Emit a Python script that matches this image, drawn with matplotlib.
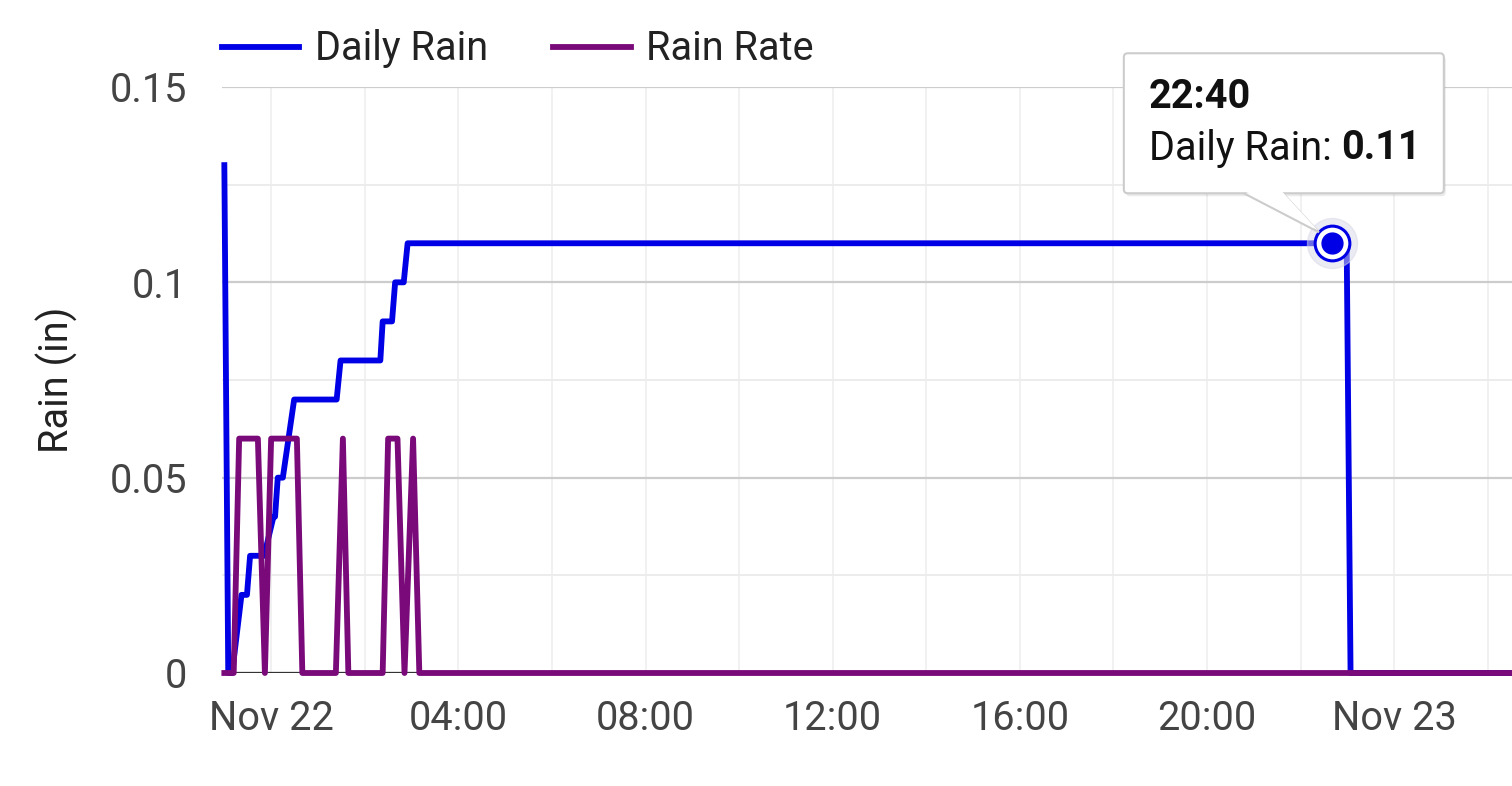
import matplotlib
matplotlib.use('Agg')
import matplotlib.pyplot as plt
import matplotlib.dates as mdates
import matplotlib.transforms as mtransforms
from matplotlib.patches import FancyBboxPatch, Polygon
from matplotlib.lines import Line2D
import pandas as pd

plt.rcParams['font.family'] = ['Roboto', 'DejaVu Sans']

# daily rain, minutes from Nov 22 00:00
rain_min = [-60, -55, -50, -38, -31, -27, -9, 3, 5, 8.5, 15, 29.5, 84, 89,
            140, 143, 155, 159, 170, 175, 1360, 1379, 1384, 1600]
rain_val = [0.13, 0, 0, 0.02, 0.02, 0.03, 0.03, 0.04, 0.04, 0.05, 0.05, 0.07,
            0.07, 0.08, 0.08, 0.09, 0.09, 0.10, 0.10, 0.11, 0.11, 0.11, 0, 0]

# rain rate
rate_min = [-60, -48, -41, -17, -8, 0, 33, 40, 83, 92, 99, 143, 150, 162,
            171, 182, 190, 1600]
rate_val = [0, 0, 0.06, 0.06, 0, 0.06, 0.06, 0, 0, 0.06, 0, 0, 0.06, 0.06,
            0, 0.06, 0, 0]

y_ticks = [0, 0.05, 0.1, 0.15]
y_labels = ['0', '0.05', '0.1', '0.15']

tip_min = 1360  # 22:40
tip_val = 0.11

base = pd.Timestamp('2023-11-22')
rain_t = base + pd.to_timedelta(rain_min, unit='min')
rate_t = base + pd.to_timedelta(rate_min, unit='min')
tip_t = base + pd.Timedelta(minutes=tip_min)

BLUE = '#0000e6'
PURPLE = '#7a0a7a'
FS = 28.5

fig = plt.figure(figsize=(15.12, 7.86), dpi=100)
ax = fig.add_axes([222 / 1512, 1 - 673 / 786, 1 - 222 / 1512, (673 - 87) / 786])

ax.set_xlim(base - pd.Timedelta(minutes=63), base + pd.Timedelta(minutes=1591))
ax.set_ylim(0, 0.15)

ax.set_yticks(y_ticks)
ax.set_yticklabels(y_labels)
ax.set_yticks([0.025, 0.075, 0.125], minor=True)

ax.xaxis.set_major_locator(mdates.HourLocator(byhour=[0, 4, 8, 12, 16, 20]))
ax.xaxis.set_minor_locator(mdates.HourLocator(byhour=list(range(0, 24, 2))))
ax.xaxis.remove_overlapping_locs = False


def fmt_time(x, pos=None):
    d = mdates.num2date(x)
    if d.hour == 0 and d.minute == 0:
        return d.strftime('%b %d').replace(' 0', ' ')
    return d.strftime('%H:%M')


ax.xaxis.set_major_formatter(plt.FuncFormatter(fmt_time))

for s in ax.spines.values():
    s.set_visible(False)
ax.tick_params(axis='both', which='both', length=0)
ax.tick_params(axis='x', labelsize=FS, labelcolor='#444444', pad=19)
ax.tick_params(axis='y', labelsize=FS, labelcolor='#444444', pad=25)

ax.grid(axis='y', which='major', color='#cccccc', lw=1.6)
ax.grid(axis='y', which='minor', color='#ececec', lw=1.4)
ax.grid(axis='x', which='both', color='#f1f1f1', lw=1.4)
ax.set_axisbelow(True)
ax.axhline(0, color='#333333', lw=1.6, zorder=1.5)

ax.plot(rain_t, rain_val, color=BLUE, lw=4.2, zorder=3, clip_on=False)
ax.plot(rate_t, rate_val, color=PURPLE, lw=4.2, zorder=3, clip_on=False)

# highlighted point
ax.plot([tip_t], [tip_val], 'o', ms=36, color='#d8d8e8', alpha=0.5, zorder=4)
ax.plot([tip_t], [tip_val], 'o', ms=25, mfc='white', mec=BLUE, mew=2.2, zorder=5)
ax.plot([tip_t], [tip_val], 'o', ms=15, color=BLUE, zorder=6)

fig.text(57 / 1512, 1 - 380 / 786, 'Rain (in)', rotation=90, ha='center',
         va='center', fontsize=FS, color='#222222')

handles = [Line2D([], [], color=BLUE, lw=4.2), Line2D([], [], color=PURPLE, lw=4.2)]
fig.legend(handles, ['Daily Rain', 'Rain Rate'], loc='center left',
           bbox_to_anchor=(222 / 1512, 1 - 49 / 786), ncol=2, frameon=False,
           fontsize=FS, handlelength=1.95, handletextpad=0.4, columnspacing=1.65,
           borderpad=0, borderaxespad=0, labelcolor='#222222')

# tooltip, placed relative to the point in pixels
fig.canvas.draw()
px, py = ax.transData.transform((mdates.date2num(tip_t), tip_val))
ident = mtransforms.IdentityTransform()
bx0, bx1 = px - 208, px + 112
by0, by1 = py + 50, py + 190
shadow = FancyBboxPatch((bx0 + 2, by0 - 3), bx1 - bx0, by1 - by0,
                        boxstyle='round,pad=0,rounding_size=4', transform=ident,
                        fc='#000000', ec='none', alpha=0.08, zorder=8)
box = FancyBboxPatch((bx0, by0), bx1 - bx0, by1 - by0,
                     boxstyle='round,pad=0,rounding_size=4', transform=ident,
                     fc='white', ec='#cccccc', lw=1.5, zorder=9)
fig.add_artist(shadow)
fig.add_artist(box)
ptr_edge = Polygon([[px - 88, by0], [px - 13, py + 11], [px - 49, by0]],
                   closed=False, transform=ident, fc='white', ec='#cccccc',
                   lw=1.5, zorder=9)
ptr_fill = Polygon([[px - 87, by0 + 2], [px - 14, py + 13], [px - 50, by0 + 2]],
                   closed=True, transform=ident, fc='white', ec='none', zorder=10)
fig.add_artist(ptr_edge)
fig.add_artist(ptr_fill)

fig.text(px - 183, py + 146, '22:40', transform=ident, fontsize=FS,
         fontweight='bold', color='#111111', va='center', ha='left', zorder=11)
t1 = fig.text(px - 183, py + 95, 'Daily Rain: ', transform=ident, fontsize=FS,
              color='#111111', va='center', ha='left', zorder=11)
r = fig.canvas.get_renderer()
ext = t1.get_window_extent(r)
fig.text(ext.x1, py + 95, '0.11', transform=ident, fontsize=FS,
         fontweight='bold', color='#111111', va='center', ha='left', zorder=11)

fig.savefig('out.png', dpi=100)
